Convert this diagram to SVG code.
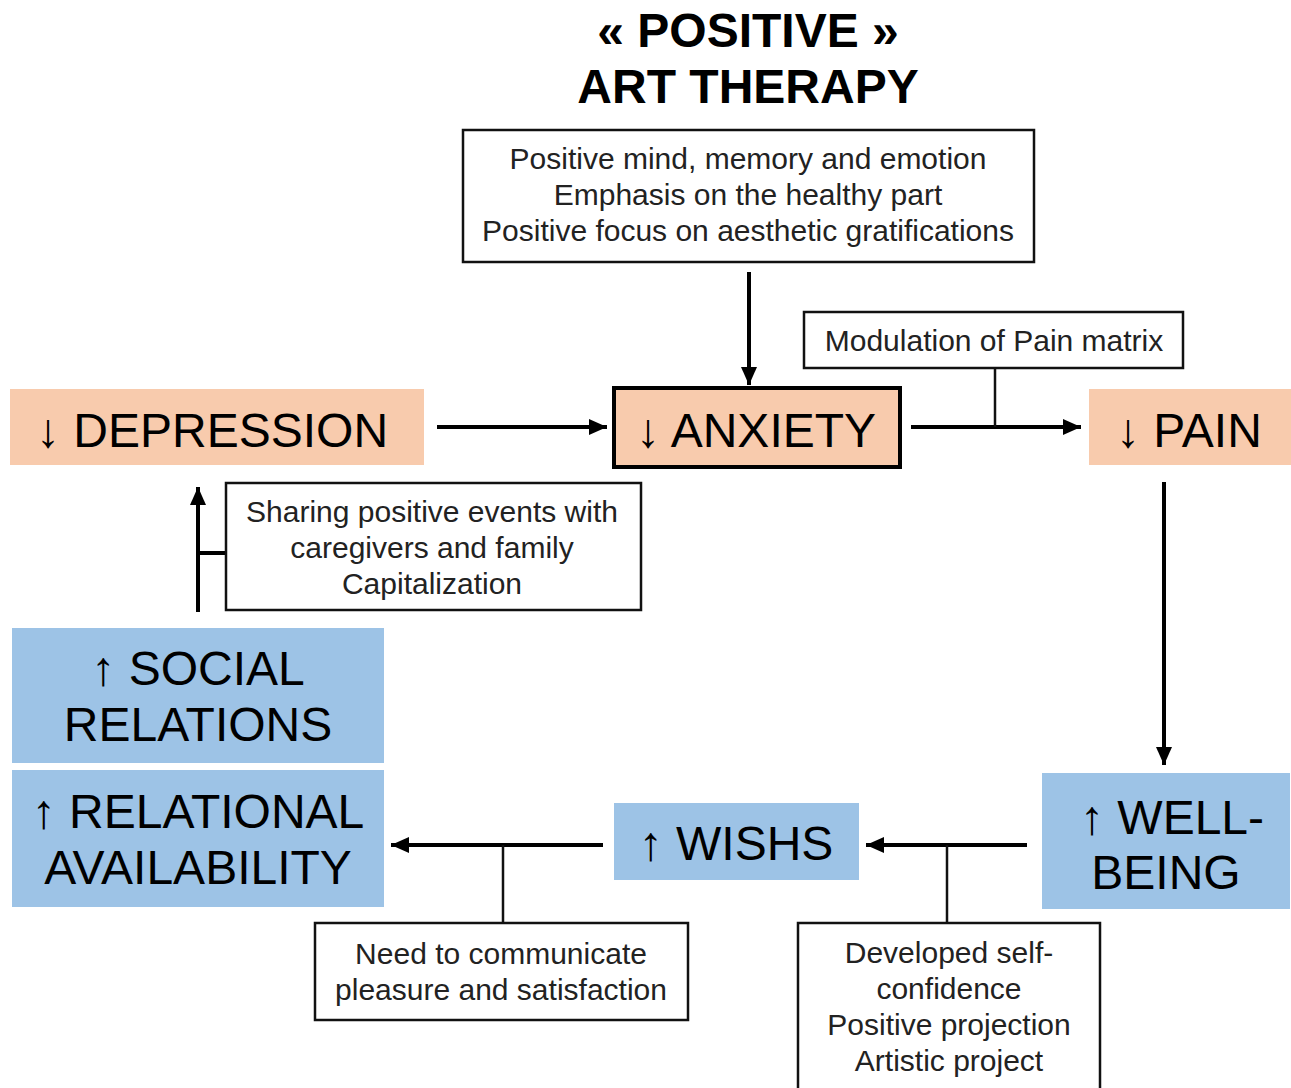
<svg xmlns="http://www.w3.org/2000/svg" width="1291" height="1088" viewBox="0 0 1291 1088">
<style>
text{font-family:"Liberation Sans",Arial,sans-serif;fill:#000}
.t{font-size:48px;font-weight:bold;text-anchor:middle}
.big{font-size:48px}
.mid{text-anchor:middle}
.sm{font-size:30px;text-anchor:middle;fill:#222}
.or{fill:#f8cbad}
.bl{fill:#9dc3e6}
.box{fill:#fff;stroke:#111;stroke-width:2.5}
.c{stroke:#000;stroke-width:4;fill:none}
.c2{stroke:#111;stroke-width:2.5;fill:none}
</style>
<defs>
<marker id="ah" markerUnits="userSpaceOnUse" markerWidth="20" markerHeight="18" refX="18" refY="9" orient="auto">
<path d="M0,1 L18,9 L0,17 Z" fill="#000"/>
</marker>
</defs>
<rect width="1291" height="1088" fill="#fff"/>
<g id="title">
<text class="t" x="748" y="47">« POSITIVE »</text>
<text class="t" x="748" y="103">ART THERAPY</text>
</g>
<g id="connectors">
<line class="c" x1="749" y1="272" x2="749" y2="385" marker-end="url(#ah)"/>
<line class="c" x1="437" y1="427" x2="607" y2="427" marker-end="url(#ah)"/>
<line class="c" x1="911" y1="427" x2="1081" y2="427" marker-end="url(#ah)"/>
<line class="c2" x1="995" y1="368" x2="995" y2="427"/>
<line class="c" x1="1164" y1="482" x2="1164" y2="765" marker-end="url(#ah)"/>
<line class="c" x1="1027" y1="845" x2="866" y2="845" marker-end="url(#ah)"/>
<line class="c2" x1="947" y1="845" x2="947" y2="923"/>
<line class="c" x1="603" y1="845" x2="391" y2="845" marker-end="url(#ah)"/>
<line class="c2" x1="503" y1="845" x2="503" y2="923"/>
<line class="c" x1="198" y1="612" x2="198" y2="487" marker-end="url(#ah)"/>
<line class="c" x1="198" y1="553" x2="226" y2="553"/>
</g>
<g id="n-top">
<rect class="box" x="463" y="130" width="571" height="132"/>
<text class="sm" x="748" y="169">Positive mind, memory and emotion</text>
<text class="sm" x="748" y="205">Emphasis on the healthy part</text>
<text class="sm" x="748" y="241">Positive focus on aesthetic gratifications</text>
</g>
<g id="n-modulation">
<rect class="box" x="804" y="312" width="379" height="56"/>
<text class="sm" x="994" y="351">Modulation of Pain matrix</text>
</g>
<g id="n-depression">
<rect class="or" x="10" y="389" width="414" height="76"/>
<text class="big" x="36" y="447">↓ DEPRESSION</text>
</g>
<g id="n-anxiety">
<rect class="or" x="614" y="388" width="286" height="79" stroke="#000" stroke-width="4"/>
<text class="big" x="636" y="447">↓ ANXIETY</text>
</g>
<g id="n-pain">
<rect class="or" x="1089" y="389" width="202" height="76"/>
<text class="big" x="1116" y="447">↓ PAIN</text>
</g>
<g id="n-sharing">
<rect class="box" x="226" y="483" width="415" height="127"/>
<text class="sm" x="432" y="522">Sharing positive events with</text>
<text class="sm" x="432" y="558">caregivers and family</text>
<text class="sm" x="432" y="594">Capitalization</text>
</g>
<g id="n-social">
<rect class="bl" x="12" y="628" width="372" height="135"/>
<text class="big mid" x="198" y="685">↑ SOCIAL</text>
<text class="big mid" x="198" y="741">RELATIONS</text>
</g>
<g id="n-relational">
<rect class="bl" x="12" y="770" width="372" height="137"/>
<text class="big mid" x="198" y="828">↑ RELATIONAL</text>
<text class="big mid" x="198" y="884">AVAILABILITY</text>
</g>
<g id="n-wishs">
<rect class="bl" x="614" y="803" width="245" height="77"/>
<text class="big mid" x="736" y="860">↑ WISHS</text>
</g>
<g id="n-wellbeing">
<rect class="bl" x="1042" y="773" width="248" height="136"/>
<text class="big mid" x="1172" y="834">↑ WELL-</text>
<text class="big mid" x="1166" y="889">BEING</text>
</g>
<g id="n-need">
<rect class="box" x="315" y="923" width="373" height="97"/>
<text class="sm" x="501" y="964">Need to communicate</text>
<text class="sm" x="501" y="1000">pleasure and satisfaction</text>
</g>
<g id="n-developed">
<rect class="box" x="798" y="923" width="302" height="170"/>
<text class="sm" x="949" y="963">Developed self-</text>
<text class="sm" x="949" y="999">confidence</text>
<text class="sm" x="949" y="1035">Positive projection</text>
<text class="sm" x="949" y="1071">Artistic project</text>
</g>
</svg>
